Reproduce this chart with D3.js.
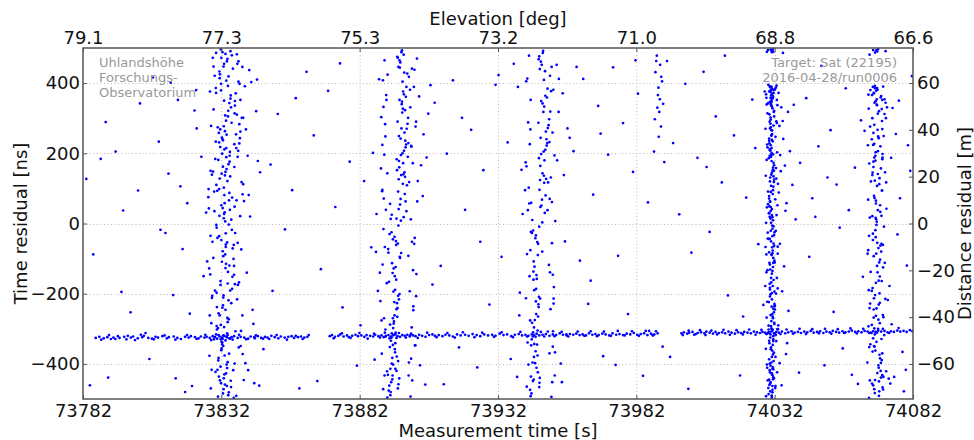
<!DOCTYPE html>
<html><head><meta charset="utf-8">
<script src="https://cdn.jsdelivr.net/npm/d3@7"></script>
<style>body{margin:0;background:#fff}svg{display:block}text{font-family:"DejaVu Sans",sans-serif}</style>
</head><body><svg id="c" width="974" height="440"></svg>
<script>
// ---- axis / tick data ----
const timeTicks = [73782,73832,73882,73932,73982,74032,74082];
const elevationLabels = ["79.1","77.3","75.3","73.2","71.0","68.8","66.6"];
const nsTicks = [-400,-200,0,200,400];
const distTicks = [-60,-40,-20,0,20,40,60];
const annotationLeft = ["Uhlandshöhe","Forschungs-","Observatorium"];
const annotationRight = ["Target: Sat (22195)","2016-04-28/run0006"];

// ---- measurement data: time [s], residual [ns] ----
const bandTime = [73786.6,73787.9,73789.5,73790.8,73792.1,73793.0,73794.6,73795.2,73796.9,73797.7,73799.3,73800.1,73801.8,73803.4,73804.0,73805.6,73806.9,73808.2,73809.1,73810.7,73812.3,73813.0,73814.8,73816.1,73817.4,73818.9,73820.2,73821.0,73822.5,73823.8,73824.6,73825.9,73826.7,73827.8,73828.9,73829.7,73830.5,73831.4,73832.2,73833.1,73833.9,73834.8,73835.7,73836.6,73837.9,73839.0,73840.3,73841.7,73842.6,73843.9,73845.2,73846.4,73847.8,73848.7,73850.1,73851.3,73852.6,73853.5,73854.9,73856.2,73857.4,73858.3,73859.7,73860.8,73862.0,73863.1,
73871.2,73872.0,73873.1,73874.3,73875.0,73876.2,73877.4,73878.1,73879.3,73880.5,73881.4,73882.6,73883.7,73884.5,73885.8,73886.9,73887.6,73888.8,73889.9,73890.7,73891.5,73892.4,73893.2,73894.0,73894.9,73895.7,73896.6,73897.4,73898.3,73899.2,73900.1,73901.3,73902.2,73903.5,73904.6,73905.8,73907.1,73908.3,73909.2,73910.6,73911.9,73913.0,73914.4,73915.7,73917.2,73918.5,73920.1,73921.4,73922.8,73924.3,73925.6,73927.0,73928.4,73929.9,73931.1,73932.6,73934.0,73935.3,73936.8,73938.1,73939.5,73940.7,73941.9,73943.0,73944.2,73945.1,73946.0,73946.9,73948.1,73949.3,73950.6,73951.8,73953.0,73954.3,73955.5,73956.8,73958.0,73959.2,73960.3,73961.5,73962.6,73963.8,73964.9,73966.1,73967.2,73968.4,73969.7,73970.9,73972.2,73973.4,73974.7,73975.9,73977.2,73978.5,73979.8,73981.1,73982.3,73983.6,73984.8,73986.0,73987.3,73988.5,73989.7,
73998.3,73999.2,74000.4,74001.1,74002.3,74003.5,74004.2,74005.4,74006.6,74007.3,74008.5,74009.7,74010.6,74011.8,74013.0,74014.1,74015.3,74016.4,74017.6,74018.8,74019.9,74021.0,74022.2,74023.4,74024.5,74025.6,74026.7,74027.6,74028.5,74029.3,74030.1,74030.9,74031.7,74032.6,74033.5,74034.6,74035.8,74036.9,74038.1,74039.2,74040.4,74041.5,74042.7,74043.8,74045.0,74046.1,74047.3,74048.4,74049.6,74050.7,74051.9,74053.0,74054.2,74055.3,74056.5,74057.6,74058.8,74059.9,74061.1,74062.2,74063.4,74064.5,74065.6,74066.7,74067.6,74068.5,74069.4,74070.5,74071.7,74072.8,74074.0,74075.1,74076.3,74077.4,74078.6,74079.7,74080.9,74081.8];
const bandNs = [-326,-323,-327,-324,-329,-325,-321,-326,-323,-330,-325,-322,-327,-324,-320,-326,-328,-323,-325,-321,-327,-324,-322,-326,-329,-323,-325,-321,-324,-327,-322,-325,-323,-326,-321,-324,-328,-322,-325,-320,-323,-327,-324,-321,-326,-323,-325,-328,-322,-324,-321,-326,-323,-325,-320,-324,-327,-322,-325,-323,-321,-326,-324,-322,-325,-323,
-321,-318,-323,-320,-316,-322,-319,-324,-320,-317,-321,-319,-323,-318,-320,-322,-317,-321,-319,-324,-320,-318,-322,-319,-316,-321,-323,-318,-320,-317,-322,-319,-321,-317,-320,-323,-318,-316,-320,-318,-321,-317,-319,-322,-316,-319,-317,-320,-315,-318,-321,-316,-319,-317,-320,-314,-318,-316,-321,-317,-315,-319,-317,-320,-316,-318,-314,-319,-317,-315,-320,-316,-318,-313,-317,-319,-315,-317,-314,-318,-316,-319,-313,-317,-315,-318,-314,-316,-319,-313,-317,-315,-318,-314,-316,-312,-317,-315,-313,-318,-314,-316,-313,
-313,-310,-314,-311,-309,-315,-312,-310,-313,-308,-311,-314,-309,-312,-310,-313,-308,-311,-314,-310,-312,-309,-311,-313,-308,-310,-312,-309,-311,-314,-310,-307,-312,-309,-311,-308,-313,-310,-307,-311,-309,-312,-308,-310,-306,-311,-309,-307,-312,-308,-310,-306,-309,-311,-307,-310,-308,-305,-309,-307,-310,-306,-308,-311,-307,-309,-305,-308,-306,-310,-307,-309,-305,-308,-306,-309,-304,-307];
const bandExtraTime = [73788.6,73791.4,73793.7,73798.2,73800.8,73802.9,73807.6,73811.5,73815.4,73819.6,73823.1,73826.2,73828.3,73830.1,73831.8,73832.7,73833.5,73834.3,73835.2,73836.1,73838.4,73841.0,73844.5,73849.3,73852.0,73855.7,73858.9,73861.4,73863.6,73847.1,
73872.6,73875.6,73878.7,73881.9,73884.9,73887.2,73889.3,73891.1,73892.8,73893.6,73895.3,73896.2,73898.7,73900.6,73903.0,73906.4,73909.8,73913.7,73916.4,73919.3,73923.5,73926.3,73930.5,73933.3,73937.4,73940.1,73942.5,73944.7,73945.6,73947.5,73948.7,73950.0,73952.4,73955.0,73957.4,73960.8,73963.2,73965.5,73967.8,73970.3,73972.8,73975.3,73977.8,73980.4,73982.9,73985.4,73987.9,73989.1,73988.0,73986.6,
73998.8,74000.9,74002.9,74005.0,74007.0,74009.1,74011.2,74013.5,74015.8,74018.2,74020.5,74022.8,74025.1,74027.2,74029.0,74029.8,74030.5,74031.3,74032.1,74033.0,74034.1,74036.3,74038.6,74041.0,74043.3,74045.6,74048.0,74050.2,74052.5,74054.8,74057.1,74059.4,74061.7,74064.0,74066.2,74068.0,74069.0,74071.1,74073.4,74076.8];
const bandExtraNs = [-331,-318,-329,-320,-332,-317,-330,-319,-331,-318,-329,-317,-332,-316,-330,-319,-333,-318,-328,-331,-317,-330,-319,-329,-318,-331,-320,-329,-318,-328,
-327,-313,-326,-312,-328,-314,-325,-311,-327,-313,-326,-312,-325,-314,-326,-311,-324,-312,-325,-310,-324,-311,-323,-310,-324,-309,-322,-310,-323,-309,-322,-308,-321,-309,-322,-308,-320,-307,-321,-308,-320,-306,-319,-307,-320,-306,-318,-307,-319,-306,
-318,-305,-317,-304,-318,-305,-316,-303,-317,-304,-316,-302,-317,-303,-315,-302,-316,-303,-314,-301,-315,-302,-314,-300,-315,-301,-313,-300,-314,-301,-312,-299,-313,-300,-312,-299,-311,-300,-312,-298];

const streakATime = [73832.4,73834.1,73831.2,73833.6,73835.3,73830.8,73832.9,73834.7,73833.0,73831.7,73836.2,73832.1,73833.8,73830.3,73834.4,73832.6,73835.9,73831.5,73833.3,73834.9,73832.0,73830.9,73833.5,73835.1,73831.9,73834.2,73832.7,73836.5,73833.1,73831.0,73834.6,73832.3,73833.9,73830.6,73835.5,73832.8,73831.4,73834.0,73833.4,73836.0,73831.8,73833.7,73835.0,73832.5,73830.1,73834.3,73833.2,73831.1,73835.7,73832.2,73833.0,73834.8,73831.6,73832.9,73836.8,73833.5,73830.5,73834.5,73832.4,73835.2,73831.3,73833.9,73832.6,73834.1,73830.0,73835.6,73833.3,73831.9,73834.7,73832.1,73835.8,73832.7,73830.7,73833.6,73834.9,73831.4,73833.1,73836.3,73832.3,73834.4,73833.8,73831.0,73834.2,73832.0,73835.4,73830.4,73833.4,73832.8,73836.7,73831.7,73834.0,73832.5,73835.1,73831.2,73833.7,73834.6,73830.2,73832.9,73833.2,73835.9,73831.5,73834.3,73832.2,73836.1,73833.0,73831.8,73834.8,73832.6,73830.9,73833.5,73835.3,73832.0,73833.9,73831.3,73834.5,73832.4,73836.4,73833.3,73831.6,73834.1,73832.8,73830.6,73835.0,73833.6,73831.9,73834.7,73832.1,73833.1,73835.6,73830.3,73834.2,73832.3,73831.1,73835.8,73833.4,73832.7,73834.9,73830.8,73833.8,73836.6,73831.4,73833.2,73835.2,73832.5,73834.4,73831.0,73833.7,73835.5,73832.9,73834.0,73833.5,73831.7,73834.6,73832.0,73836.9,73833.0,73831.2,73835.4,73832.6,73834.3];
const streakANs = [488,-412,231,-67,356,-298,102,-481,27,-175,441,-356,189,-12,305,-233,74,-447,263,-120,472,-390,147,39,398,-269,-93,-497,211,-318,419,-338,253,-41,331,-205,128,-463,6,-152,496,-427,176,-79,372,-281,58,-436,287,-109,455,-371,218,15,314,-246,93,-489,241,-191,433,-402,162,-54,386,-227,137,-455,-3,-337,479,-349,274,-28,343,-262,81,-418,199,-138,407,-383,121,52,365,-302,-88,-472,226,-164,462,-328,204,-36,293,-219,110,-441,32,-186,425,-395,245,-71,350,-289,66,-484,181,-127,491,-361,155,22,321,-240,-101,-459,268,-313,447,-417,193,-60,379,-273,142,-430,11,-197,469,-344,258,-18,308,-211,87,-493,215,-146,414,-376,134,44,392,-256,-115,-466,277,-324,483,-408,169,-47,336,-295,98,-448,237,-171];
const streakAHaloTime = [73828.9,73837.8,73829.6,73838.6,73827.9,73836.9,73829.2,73839.4,73828.3,73837.3,73830.0,73838.1,73829.8,73836.7,73828.6,73839.9,73829.4,73837.5,73827.5,73838.8,73830.2,73837.0,73828.8,73839.2,73829.1,73836.6,73828.0,73838.4,73829.7,73837.7,73830.4,73839.6,73828.4,73837.1,73829.3,73838.3,73827.7,73836.8,73829.9,73840.1,73828.2,73837.4,73830.1,73838.9,73829.0,73836.5,73828.7,73839.0,73829.5,73837.6,73827.6,73838.2,73830.3,73837.9,73828.5,73839.7,73829.2,73836.9,73828.1,73838.5];
const streakAHaloNs = [472,455,421,398,376,349,325,301,278,254,233,207,184,161,139,112,91,66,43,21,-4,-27,-52,-74,-98,-121,-145,-168,-191,-216,-238,-262,-284,-307,-330,-353,-377,-399,-423,-446,-470,-491,486,262,148,-61,-206,-349,35,310,-128,404,-292,190,-417,83,447,-173,-35,228];
const streakAWideTime = [73838.2,73840.5,73837.4,73842.1,73839.3,73844.6,73838.9,73841.2,73836.8,73843.3,73827.4,73839.7,73845.2,73840.9,73837.9,73828.6,73842.8,73838.5,73841.7,73839.1,73846.0,73837.6,73843.9,73840.2,73826.9,73838.0,73841.5,73844.1,73839.6,73828.1,73842.4,73837.2,73840.7,73845.7,73838.7,73841.9,73843.6,73839.9,73827.8,73844.9];
const streakAWideNs = [462,391,215,437,118,320,352,-140,48,-246,98,-372,178,268,-55,-212,403,283,-418,-306,146,482,-455,64,-108,-175,193,-327,446,150,20,371,-398,-462,243,81,-286,301,-262,410];

const streakBTime = [73897.3,73894.1,73898.6,73895.2,73896.4,73893.0,73899.1,73895.8,73897.9,73892.6,73896.0,73894.9,73897.7,73893.5,73899.5,73895.5,73896.8,73892.2,73898.2,73894.3,73895.6,73893.8,73897.0,73896.1,73898.9,73894.6,73896.5,73893.1,73897.5,73895.0,73899.8,73892.9,73896.2,73894.0,73897.6,73895.9,73898.4,73893.4,73896.9,73894.7,73897.1,73895.3,73895.4,73892.4,73898.0,73894.4,73896.6,73896.3,73899.3,73893.7,73896.7,73894.8,73898.8,73893.2,73897.4,73895.7,73895.9,73892.0,73898.5,73894.2,73898.1,73893.6,73896.3,73895.1,73900.2,73894.5,73897.8,73896.0,73896.0,73893.3,73895.8,73894.0,73899.0,73892.8,73897.2,73895.6,73898.3,73894.9,73896.9,73893.9,73897.5,73895.4,73896.1,73893.0,73898.7,73894.1,73897.0,73892.5,73899.6,73895.2,73896.4,73893.5,73898.0,73894.6,73895.7,73896.2,73897.6,73893.8,73898.9,73894.8,73899.2,73895.9,73896.8,73892.3,73897.3,73894.3,73898.6,73893.2,73896.2,73895.0,73897.9,73894.7,73895.5,73893.6,73898.4,73895.3,73896.6,73892.7,73897.1,73894.4,73896.5,73893.1,73899.4,73895.8,73897.7,73894.0,73898.2,73893.9,73895.3,73896.4];
const streakBNs = [493,-402,217,-61,352,-288,109,-470,18,-166,446,-341,172,-25,301,-227,70,-431,259,-128,475,-383,138,41,389,-262,-95,-489,200,-311,418,-352,249,-45,327,-206,133,-452,8,-150,488,-420,183,-83,368,-279,54,-441,284,-113,459,-367,225,13,316,-241,91,-496,236,-194,430,-399,160,-50,381,-224,140,-458,-6,-334,472,-346,270,-30,340,-266,84,-414,195,-141,404,-379,126,56,361,-298,-84,-476,229,-160,465,-325,207,-38,290,-216,113,-444,35,-189,427,-392,242,-73,347,-285,63,-480,178,-124,481,-358,152,25,323,-244,-98,-462,271,-317,444,-414,190,-57,376,-270,146,-433,14,-201];
const streakBHaloTime = [73891.0,73900.9,73890.4,73901.6,73891.7,73900.3,73889.8,73902.2,73891.3,73900.7,73890.9,73901.2,73892.0,73899.9,73890.1,73902.8,73891.5,73900.5,73890.6,73901.9,73891.1,73899.6,73890.3,73902.5,73891.8,73900.1,73889.5,73901.4,73890.8,73900.8,73891.4,73902.0,73890.0,73899.8,73891.9,73901.0,73890.5,73900.4,73891.2,73901.7,73889.7,73900.2,73892.1,73902.4,73890.7,73899.7,73891.6,73901.3,73890.2,73900.6];
const streakBHaloNs = [465,441,408,389,352,331,303,276,248,219,196,172,143,118,92,63,39,12,-16,-41,-67,-92,-117,-144,-170,-193,-221,-247,-270,-296,-322,-347,-371,-396,-421,-447,-472,-493,283,-58,157,-319,424,-207,71,-433,366,-133,224,-385];
const streakBWideTime = [73901.8,73888.6,73903.5,73890.2,73905.1,73887.4,73902.7,73889.9,73906.8,73900.9,73904.2,73888.1,73902.1,73891.0,73907.6,73886.8,73903.0,73889.3,73901.4,73905.7,73890.6,73904.8,73887.9,73902.4,73908.3,73889.0,73903.8,73900.6,73906.2,73891.3];
const streakBWideNs = [438,-192,362,96,254,-388,470,-276,313,-52,166,27,-347,-433,394,201,121,-140,-236,-459,332,78,-81,290,-174,411,-404,221,188,-302];

const streakCTime = [73948.2,73945.4,73949.6,73946.5,73947.6,73944.3,73950.1,73946.9,73948.9,73944.8,73947.1,73946.1,73948.8,73944.7,73950.5,73946.6,73947.9,73943.9,73949.3,73945.2,73946.7,73945.0,73948.1,73947.3,73949.9,73945.8,73946.4,73944.1,73948.5,73946.3,73950.8,73944.0,73947.4,73945.5,73948.7,73946.8,73949.4,73944.6,73948.0,73945.9,73948.3,73946.4,73946.8,73943.7,73949.1,73945.3,73947.7,73947.1,73950.3,73944.9,73947.8,73945.6,73949.8,73944.4,73948.4,73946.7,73947.0,73943.8,73949.5,73945.1,73949.0,73944.5,73947.3,73946.2,73951.2,73945.7,73948.6,73947.0,73946.9,73944.2,73946.9,73945.1,73950.0,73944.3,73948.1,73946.5,73949.2,73945.9,73947.6,73944.8,73948.6,73946.3,73947.2,73944.0,73949.7,73945.0,73948.0,73943.6,73950.6,73946.0,73947.5,73944.6,73949.1,73945.7,73946.6,73947.2,73948.7,73944.9,73949.9,73945.8];
const streakCNs = [486,-398,222,-58,349,-283,117,-466,30,-160,440,-345,180,-20,297,-230,68,-436,262,-123,468,-380,143,47,384,-258,-90,-484,205,-305,421,-347,244,-42,333,-209,127,-449,3,-147,492,-424,186,-76,364,-275,51,-440,280,-108,452,-364,229,10,318,-238,96,-492,240,-190,434,-396,164,-53,377,-222,136,-454,-9,-330,476,-343,272,-27,342,-265,80,-411,198,-137,409,-376,124,59,359,-296,-80,-474,232,-158,461,-322,210,-34,287,-214,116,-445,38,-186];
const streakCHaloTime = [73943.2,73951.4,73942.6,73952.0,73943.8,73950.9,73942.9,73951.7,73943.5,73952.4,73942.3,73951.1,73943.1,73950.7,73942.8,73952.7,73943.9,73951.5,73942.5,73950.4,73943.4,73952.2,73942.1,73951.0,73943.6,73951.9,73942.7,73950.6,73943.0,73952.5,73942.4,73951.3,73943.7,73950.8,73942.2,73951.8,73943.3,73952.1,73942.0,73951.6];
const streakCHaloNs = [478,446,413,381,352,319,288,259,226,194,163,131,102,70,38,7,-24,-56,-87,-118,-150,-181,-213,-244,-276,-307,-339,-370,-402,-433,-465,-494,268,-139,405,-351,57,-228,174,-452];
const streakCWideTime = [73953.2,73940.5,73955.4,73951.8,73957.1,73939.7,73954.0,73952.6,73959.3,73941.8,73956.2,73953.9,73938.9,73955.8,73952.1,73960.4,73954.7,73940.9,73957.9,73951.5,73956.7,73953.4,73961.6,73939.2,73955.1];
const streakCWideNs = [452,153,371,-146,271,-262,412,-367,206,95,-51,318,-437,138,-214,446,-399,27,244,61,-316,180,-106,389,-452];

const streakDTime = [73989.4,73990.6,73988.9,73991.3,73990.0,73989.8,73991.7,73990.3,73988.7,73990.9,73989.2,73991.0,73990.5,73989.6,73992.1,73990.1,73988.4,73991.5];
const streakDNs = [478,452,431,405,387,366,341,318,297,276,463,418,354,330,175,247,205,-351];

const streakETime = [74030.6,74031.3,74030.1,74031.8,74030.9,74029.8,74031.5,74030.4,74031.0,74030.2,74031.6,74030.7,74029.9,74031.2,74030.5,74031.9,74030.0,74031.4,74030.8,74030.3,74031.1,74030.0,74031.7,74030.6,74029.7,74031.3,74030.9,74031.0,74030.4,74032.0,74030.2,74031.5,74030.8,74029.9,74031.2,74030.5,74031.8,74030.1,74031.4,74030.7,74031.0,74030.3,74031.6,74030.0,74031.1,74030.8,74029.6,74031.3,74030.5,74031.9,74030.4,74031.7,74030.9,74031.2,74030.1,74031.5,74030.6,74029.8,74031.0,74030.3,74031.8,74030.2,74031.4,74030.7,74031.0,74029.9,74031.6,74030.5,74031.1,74030.0,74030.9,74031.3,74030.3,74031.9,74030.6,74031.1,74030.0,74031.5,74030.8,74031.2,74030.5,74031.0,74031.7,74030.1,74031.4,74030.8,74031.2,74029.7,74030.6,74031.6,74031.3,74030.4,74030.9,74031.8,74030.2,74031.0,74030.7,74031.5,74029.9,74030.3,74030.8,74031.6,74030.0,74031.1,74030.5,74031.9,74030.3,74031.2,74030.9,74031.4,74031.0,74030.6,74031.3,74030.2,74031.7,74030.9,74031.5,74030.4,74031.1,74029.8,74030.3,74031.2,74030.7,74031.6,74030.0,74031.4,74030.8,74031.0,74030.5,74031.9,74031.5,74030.1,74031.1,74030.6,74031.8,74030.3,74031.3,74030.9,74030.2,74031.0,74030.7,74031.4,74030.4,74031.0,74030.9,74031.7,74030.1,74031.2,74030.6,74031.5,74031.2,74030.5,74031.8,74030.2,74031.0,74030.7,74031.4,74030.0,74031.3,74030.8,74030.9,74031.1,74030.3,74031.6,74030.6,74031.9,74030.4,74031.2,74030.8,74031.5,74031.4,74030.8,74031.0,74030.1,74031.7,74030.5,74031.3,74030.9,74030.2,74031.1,74030.6,74031.5,74030.0,74031.2,74030.8,74031.0,74030.3,74031.7,74030.7,74031.3,74031.1,74030.2,74031.4,74030.9,74030.5,74031.8,74030.6,74031.0,74031.6,74030.4];
const streakENs = [495,-409,228,-64,355,-291,105,-478,24,-172,372,-353,186,-15,302,-236,71,-444,266,-117,491,-387,150,36,395,-266,-90,-494,208,-315,346,-335,250,-44,328,-202,125,-460,9,-155,493,-424,173,-82,369,-278,55,-433,284,-106,388,-368,215,18,311,-243,90,-486,238,-188,321,-399,159,-51,383,-224,134,-452,-6,-334,496,-346,271,-25,340,-259,78,-415,196,-135,379,-380,118,49,362,-299,-85,-469,223,-161,357,-325,201,-33,290,-216,107,-438,29,-183,336,-392,242,-68,347,-286,63,-481,178,-124,488,-358,152,19,318,-237,-98,-456,265,-310,391,-414,190,-57,376,-270,139,-427,14,-194,489,-341,255,-21,305,-208,84,-490,212,-143,365,-373,131,41,389,-253,-112,-463,274,-321,382,-405,166,-44,333,-292,95,-445,234,-168,349,-362,209,-8,296,-229,62,-474,252,-112,498,-396,145,30,380,-261,-77,-499,193,-302,374,-330,236,-36,345,-198,120,-441,2,-178,497,-418,197,-88,358,-283,47,-430,279,-131];
const streakEHaloTime = [74029.2,74032.4,74028.9,74032.8,74029.5,74032.1,74029.0,74033.0,74029.4,74032.6,74028.7,74032.3,74029.3,74032.9,74029.1,74032.5,74028.8,74033.2,74029.6,74032.2,74029.2,74032.7,74028.9,74032.4,74029.5,74033.1,74029.0,74032.0,74029.4,74032.8,74028.6,74032.5,74029.3,74032.1,74029.1,74033.3,74029.7,74032.6,74028.8,74032.3,74029.2,74032.9,74029.5,74032.2,74028.9,74032.7,74029.4,74033.0,74029.0,74032.4,74029.6,74032.8,74028.7,74032.1,74029.3,74032.6,74029.1,74033.1,74029.5,74032.3];
const streakEHaloNs = [489,387,368,352,342,382,358,337,314,291,270,247,225,203,181,158,136,113,91,69,46,24,2,-21,-43,-66,-88,-111,-133,-155,-178,-200,-223,-245,-268,-290,-312,-335,-357,-380,-402,-424,-447,-469,-492,393,217,52,-139,-318,494,286,-67,-234,-411,128,339,-185,-26,-463];
const streakEWideTime = [74033.4,74035.1,74034.2,74036.8,74033.9,74038.4,74034.7,74035.9,74033.2,74037.5,74034.4,74036.1,74033.7,74039.6,74035.4,74034.0,74037.0,74033.5,74036.5,74034.9,74040.8,74035.7,74033.1,74038.9,74034.5,74036.3,74028.4,74027.9,74035.0,74033.8];
const streakEWideNs = [372,241,149,318,-58,110,-193,36,-301,206,331,-372,278,12,-122,195,-249,88,-341,292,-425,165,-86,338,-461,58,376,-232,486,-398];

const streakFTime = [74068.3,74069.5,74067.6,74070.2,74068.9,74067.1,74069.8,74068.0,74070.6,74068.6,74069.2,74067.9,74070.9,74068.4,74067.3,74069.6,74068.1,74070.4,74067.7,74069.0,74068.7,74070.1,74067.4,74069.3,74068.2,74071.1,74067.8,74069.7,74068.5,74067.0,74070.3,74068.8,74069.4,74067.5,74070.7,74068.3,74069.9,74067.2,74068.9,74070.0,74067.6,74069.1,74068.4,74070.5,74067.9,74069.5,74068.6,74071.3,74068.0,74069.8,74069.0,74067.4,74070.2,74068.7,74069.3,74067.8,74070.8,74068.2,74069.6,74067.1,74068.5,74070.4,74067.7,74069.1,74068.3,74070.0,74067.3,74069.7,74068.8,74070.6,74069.4,74068.1,74070.9,74067.5,74069.0,74068.6,74067.9,74070.3,74068.4,74069.2,74067.8,74069.9,74068.2,74070.1,74067.2,74069.4,74068.7,74071.0,74068.0,74069.6,74070.5,74067.6,74069.3,74068.5,74070.8,74067.9,74069.0,74068.3,74070.2,74067.4,74068.9,74070.7,74067.1,74069.5,74068.1,74070.0,74068.6,74069.8,74067.7,74071.2,74069.1,74068.4,74070.4,74067.3,74069.7,74068.8,74070.1,74067.6,74069.2,74068.2,74067.5,74069.6,74068.0,74070.6,74068.7,74067.8,74069.3,74070.9,74068.5,74069.9];
const streakFNs = [487,-404,224,-63,354,-289,112,-472,22,-169,381,-349,183,-19,300,-231,73,-439,258,-121,493,-384,145,38,392,-261,-93,-491,203,-312,359,-337,248,-47,326,-204,129,-456,5,-151,494,-426,179,-80,371,-274,57,-437,281,-111,386,-365,220,12,313,-245,94,-483,243,-192,348,-397,161,-55,385,-226,138,-450,-4,-329,497,-351,269,-29,337,-263,79,-420,193,-139,372,-374,122,52,366,-300,-86,-467,227,-163,363,-327,206,-39,292,-213,107,-446,33,-184,339,-389,240,-70,344,-284,65,-478,176,-125,490,-362,157,21,320,-242,-103,-461,267,-316,389,-411,188,-58,378,-268,141,-432,16,-199];
const streakFHaloTime = [74066.3,74071.2,74065.9,74071.7,74066.6,74070.9,74066.0,74072.2,74066.5,74071.4,74065.7,74071.0,74066.2,74071.9,74066.8,74070.8,74065.8,74072.4,74066.4,74071.5,74066.1,74071.1,74065.6,74071.8,74066.7,74070.7,74066.0,74072.0,74066.3,74071.3,74065.9,74071.6,74066.6,74070.9,74065.5,74072.3,74066.4,74071.2,74066.1,74071.7,74065.8,74071.0,74066.5,74072.1,74066.2];
const streakFHaloNs = [481,390,367,354,380,352,327,300,276,249,223,198,171,146,120,94,68,42,17,-9,-35,-61,-86,-112,-138,-164,-190,-215,-241,-267,-293,-318,-344,-370,-396,-421,-447,-473,-497,312,-76,188,-228,344,-352];
const streakFWideTime = [74072.6,74074.1,74073.2,74075.8,74072.9,74077.3,74073.8,74076.4,74072.3,74078.7,74074.6,74073.5,74079.4,74075.2,74072.1,74076.9,74074.3,74080.2,74063.9,74064.5];
const streakFWideNs = [331,187,-442,255,-218,72,-456,-31,117,-478,329,-178,-417,-437,491,350,-287,223,-152,264];

const scatterTime = [73783.2,73785.7,73788.4,73791.1,73793.8,73796.5,73799.2,73801.9,73804.6,73807.3,73810.0,73784.5,73790.2,73795.9,73802.6,73806.0,73809.4,73811.8,
73812.9,73814.6,73816.3,73818.0,73819.7,73821.4,73823.1,73824.8,73826.5,73813.7,73815.5,73817.2,73820.6,73822.3,73825.6,73827.3,73818.9,73822.9,
73847.2,73849.8,73852.4,73855.0,73857.6,73860.2,73862.8,73865.4,73868.0,73870.6,73873.2,73875.8,73878.4,73881.0,73883.6,73886.2,73850.5,73858.9,73866.7,73874.9,73882.3,
73909.1,73911.3,73913.5,73915.7,73917.9,73920.1,73922.3,73924.5,73926.7,73928.9,73931.1,73933.3,73935.5,73937.7,73939.9,73912.4,73919.0,73925.6,73932.2,73936.6,
73962.8,73964.6,73966.4,73968.2,73970.0,73971.8,73973.6,73975.4,73977.2,73979.0,73980.8,73982.6,73984.4,73986.2,73965.5,73969.1,73974.5,73981.7,
73993.1,73995.3,73997.5,73999.7,74001.9,74004.1,74006.3,74008.5,74010.7,74012.9,74015.1,74017.3,74019.5,74021.7,74023.9,74026.1,73994.2,74000.8,74007.4,74014.0,74020.6,74025.0,
74041.2,74043.4,74045.6,74047.8,74050.0,74052.2,74054.4,74056.6,74058.8,74061.0,74063.2,74044.5,74048.9,74053.3,74057.7,74062.1,74046.7,74051.1,74055.5,74059.9,
74081.0,74079.8,74081.6,74078.2];
const scatterNs = [127,-88,184,-439,205,37,-253,94,-312,416,-18,-461,289,-195,342,-386,233,-27,
142,-204,352,-73,58,-463,271,190,31,401,-441,106,-257,322,-150,75,-480,380,
-358,168,312,-17,95,-470,432,251,-130,378,47,-239,176,-405,121,-68,-192,357,-449,456,-290,
344,-121,199,408,-353,39,267,-410,152,-231,395,-95,231,455,-197,-458,301,-52,423,-386,
412,-229,82,335,-378,196,445,-92,286,-258,147,370,-434,60,-163,256,-403,465,
463,229,26,398,-83,187,432,-24,305,117,-205,251,-433,74,353,-59,-380,-471,161,478,-265,215,
173,357,72,220,-404,266,111,-356,38,159,294,-95,449,-252,385,-457,19,131,-12,-431,
150,-120,420,-366];

// ---- drawing ----
const svg = d3.select("#c");
const L = 83, R = 913, T = 48, B = 399;
const x = d3.scaleLinear().domain([73782, 74082]).range([L, R]);
const y = d3.scaleLinear().domain([-500, 500]).range([B, T]);
const metresPerNs = 0.299792458 / 2;
const yDist = d3.scaleLinear().domain([-500 * metresPerNs, 500 * metresPerNs]).range([B, T]);

const series = [
  [bandTime, bandNs], [bandExtraTime, bandExtraNs],
  [streakATime, streakANs], [streakAHaloTime, streakAHaloNs], [streakAWideTime, streakAWideNs],
  [streakBTime, streakBNs], [streakBHaloTime, streakBHaloNs], [streakBWideTime, streakBWideNs],
  [streakCTime, streakCNs], [streakCHaloTime, streakCHaloNs], [streakCWideTime, streakCWideNs],
  [streakDTime, streakDNs],
  [streakETime, streakENs], [streakEHaloTime, streakEHaloNs], [streakEWideTime, streakEWideNs],
  [streakFTime, streakFNs], [streakFHaloTime, streakFHaloNs], [streakFWideTime, streakFWideNs],
  [scatterTime, scatterNs]
];
const points = series.flatMap(([t, v]) => {
  const n = Math.min(t.length, v.length);
  return d3.range(n).map(i => ({t: t[i], ns: v[i]}));
});

// grid
const grid = svg.append("g").attr("stroke", "#b8b8b8").attr("stroke-width", 1).attr("stroke-dasharray", "1,2.5");
grid.selectAll(".gx").data(timeTicks.slice(1, -1)).join("line")
  .attr("x1", d => x(d) + 0.5).attr("x2", d => x(d) + 0.5).attr("y1", T).attr("y2", B);
grid.selectAll(".gy").data(nsTicks).join("line")
  .attr("x1", L).attr("x2", R).attr("y1", d => Math.round(y(d)) + 0.5).attr("y2", d => Math.round(y(d)) + 0.5);

// points
svg.append("clipPath").attr("id", "clip").append("rect").attr("x", L).attr("y", T).attr("width", R - L).attr("height", B - T);
svg.append("g").attr("clip-path", "url(#clip)").attr("fill", "#0000ff")
  .selectAll("circle").data(points).join("circle")
  .attr("cx", d => x(d.t)).attr("cy", d => y(d.ns)).attr("r", 1.35);

// annotations (drawn above the points)
const ann = svg.append("g").attr("fill", "#999").attr("font-size", 13);
ann.selectAll(".al").data(annotationLeft).join("text")
  .attr("x", 99).attr("y", (d, i) => 67 + i * 15).text(d => d);
ann.selectAll(".ar").data(annotationRight).join("text")
  .attr("x", 897).attr("y", (d, i) => 67 + i * 15).attr("text-anchor", "end").text(d => d);

// axes
function styleAxis(g) {
  g.select(".domain").remove();
  g.selectAll(".tick line").attr("stroke", "#555");
  g.selectAll(".tick text").attr("font-size", 18).attr("fill", "#111").attr("font-family", "DejaVu Sans, sans-serif");
}
svg.append("g").attr("transform", `translate(0,${B})`)
  .call(d3.axisBottom(x).tickValues(timeTicks).tickFormat(d3.format("d")).tickSizeInner(-4).tickSizeOuter(0).tickPadding(5))
  .call(styleAxis);
svg.append("g").attr("transform", `translate(0,${T})`)
  .call(d3.axisTop(x).tickValues(timeTicks).tickFormat((d, i) => elevationLabels[i]).tickSizeInner(-4).tickSizeOuter(0).tickPadding(4))
  .call(styleAxis);
svg.append("g").attr("transform", `translate(${L},0)`)
  .call(d3.axisLeft(y).tickValues(nsTicks).tickFormat(d3.format("d")).tickSizeInner(-4).tickSizeOuter(0).tickPadding(3))
  .call(styleAxis);
svg.append("g").attr("transform", `translate(${R},0)`)
  .call(d3.axisRight(yDist).tickValues(distTicks).tickFormat(d3.format("d")).tickSizeInner(-4).tickSizeOuter(0).tickPadding(4))
  .call(styleAxis);

// frame
svg.append("rect").attr("x", L).attr("y", T).attr("width", R - L).attr("height", B - T)
  .attr("fill", "none").attr("stroke", "#555").attr("stroke-width", 1.5);

// axis titles
const titles = svg.append("g").attr("font-size", 18).attr("fill", "#111").attr("text-anchor", "middle");
titles.append("text").attr("x", (L + R) / 2).attr("y", 437).text("Measurement time [s]");
titles.append("text").attr("x", (L + R) / 2).attr("y", 25).text("Elevation [deg]");
titles.append("text").attr("transform", `translate(27,${(T + B) / 2}) rotate(-90)`).text("Time residual [ns]");
titles.append("text").attr("transform", `translate(971,${(T + B) / 2}) rotate(-90)`).text("Distance residual [m]");
</script></body></html>
